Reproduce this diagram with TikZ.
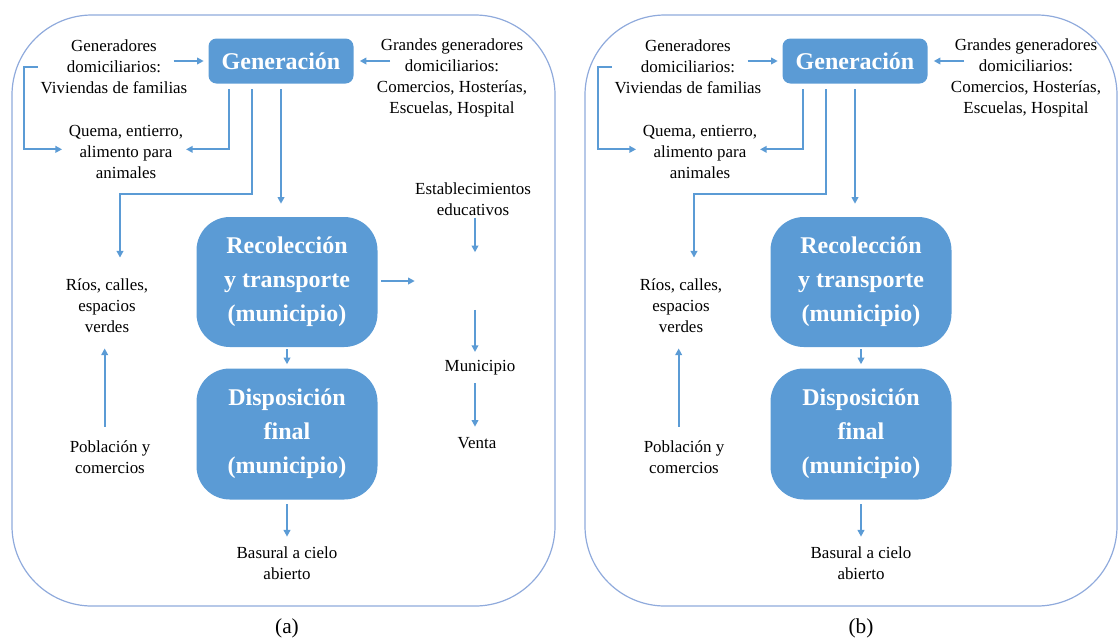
\documentclass[tikz,border=0pt]{standalone}
\usepackage{fontspec}
\setmainfont{Liberation Serif}
\usetikzlibrary{arrows.meta}

\definecolor{boxblue}{HTML}{5B9BD5}
\definecolor{frameblue}{HTML}{8FAADC}

\begin{document}
\begin{tikzpicture}[x=0.75pt, y=-0.75pt]

                \tikzstyle{stage} = [fill=boxblue, text=white, align=center, inner sep=0pt, font=\fontsize{18}{25.5}\selectfont\bfseries]
                \tikzstyle{txt}   = [align=center, inner sep=2pt, font=\fontsize{12.7}{15.75}\selectfont]
                \tikzstyle{arr}   = [draw=boxblue, line width=1.5pt, -{Triangle[length=5pt,width=5pt]}]
                \tikzstyle{frame} = [draw=frameblue, line width=0.9pt, rounded corners=60pt]

                \useasboundingbox (0,0) rectangle (1118,637);
                \draw[frame] (12,15) rectangle (555,606);
                \draw[frame] (585,15) rectangle (1117,606);

                \foreach \p/\offset in {a/0, b/574} {
                \node[stage, minimum width=108.75pt, minimum height=33.75pt, rounded corners=6pt] (\p-gen) at ({281 + \offset}, 61) {Generación};
                \node[stage, minimum width=135.75pt, minimum height=97.5pt, rounded corners=25pt] (\p-rec) at ({287 + \offset}, 282) {Recolección\\y transporte\\(municipio)};
                \node[stage, minimum width=135.75pt, minimum height=98.25pt, rounded corners=25pt] (\p-disp) at ({287 + \offset}, 434) {Disposición\\final\\(municipio)};
                \node[txt] (\p-gendom) at ({114 + \offset}, 67) {Generadores\\domiciliarios:\\Viviendas de familias};
                \node[txt] (\p-grandes) at ({452 + \offset}, 77.5) {Grandes generadores\\domiciliarios:\\Comercios, Hosterías,\\Escuelas, Hospital};
                \node[txt] (\p-quema) at ({126 + \offset}, 152) {Quema, entierro,\\alimento para\\animales};
                \node[txt] (\p-rios) at ({107 + \offset}, 306) {Ríos, calles,\\espacios\\verdes};
                \node[txt] (\p-pob) at ({110 + \offset}, 457.5) {Población y\\comercios};
                \node[txt] (\p-basural) at ({287 + \offset}, 563.5) {Basural a cielo\\abierto};
                \node[font=\fontsize{16}{18}\selectfont] (\p-cap) at ({287 + \offset}, 628) {(\p)};

                \draw[arr, shorten <=-12.5pt, shorten >=3.4pt] (\p-gendom.east |- \p-gen.west) -- (\p-gen.west);
                \draw[arr, shorten <=-12pt, shorten >=4.5pt] (\p-grandes.west |- \p-gen.east) -- (\p-gen.east);
                \draw[arr, shorten >=2.9pt] (\p-gendom.west) -- ++(-14,0) |- ([yshift=2pt]\p-quema.west);
                \draw[arr, shorten <=4pt] ([xshift=-39pt]\p-gen.south) |- ([yshift=2pt]\p-quema.east);
                \draw[arr, shorten <=4pt, shorten >=13.9pt] ([xshift=-21.75pt]\p-gen.south) -- ++(0,110.5) -| ([xshift=9.75pt]\p-rios.north);
                \draw[arr, shorten <=4pt, shorten >=9.75pt] (\p-gen.south) -- (\p-gen.south |- \p-rec.north);
                \draw[arr, shorten <=8.6pt, shorten >=9.4pt] ([xshift=-4pt]\p-pob.north) -- ([xshift=-4pt]\p-pob.north |- \p-rios.south);
                \draw[arr, shorten <=1.5pt, shorten >=3pt] (\p-rec) -- (\p-disp);
                \draw[arr, shorten <=3.4pt, shorten >=5.6pt] (\p-disp) -- (\p-basural);
                }

                % only in (a)
                \node[txt] (estab) at (473, 199) {Establecimientos\\educativos};
                \node[minimum width=90pt, minimum height=42.75pt, inner sep=0pt] (hub) at (475, 281) {};
                \node[txt] (muni) at (480, 368) {Municipio};
                \node[txt] (venta) at (477, 443) {Venta};
                \draw[arr, shorten <=2.6pt] (a-rec.east |- hub.west) -- (hub.west);
                \draw[arr] (estab.south -| hub.north) -- (hub.north);
                \draw[arr, shorten >=4.3pt] (hub.south) -- (hub.south |- muni.north);
                \draw[arr, shorten <=3.5pt, shorten >=5.8pt] (hub.south |- muni.south) -- (hub.south |- venta.north);
\end{tikzpicture}
\end{document}
